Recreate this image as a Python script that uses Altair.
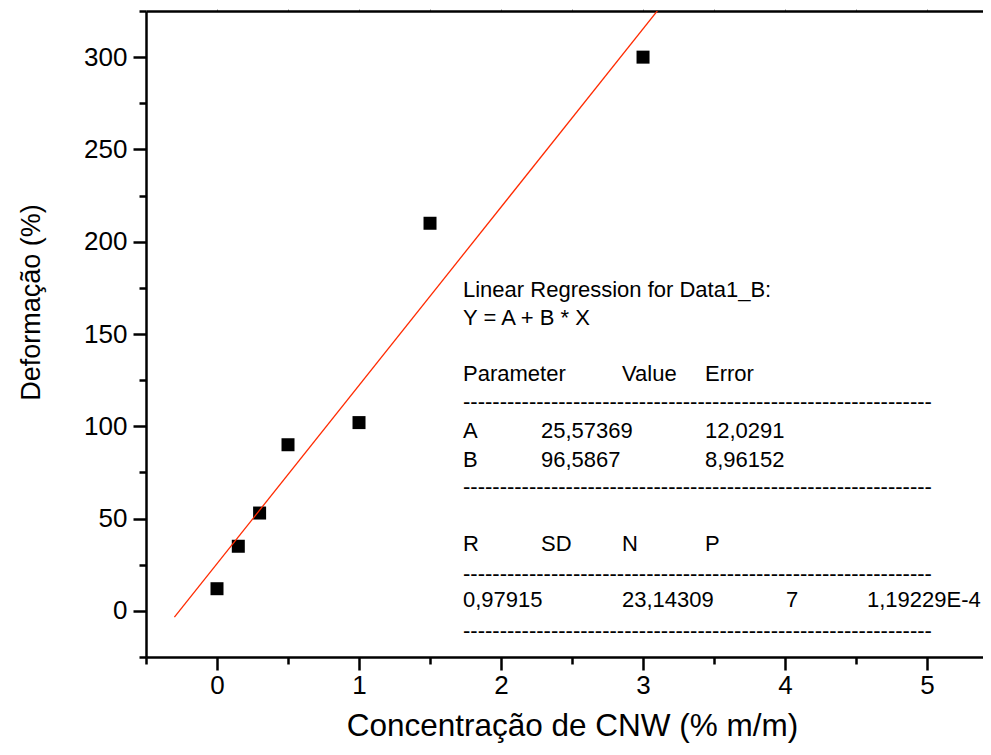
import altair as alt
import pandas as pd

# ---- data ----
CONC = [0.0, 0.15, 0.3, 0.5, 1.0, 1.5, 3.0]
DEFORM = [12, 35, 53, 90, 102, 210, 300]

FIT_A = 25.57369
FIT_B = 96.5867
FIT_X = [-0.3, 3.2]

X_DOMAIN = [-0.5, 5.394]
Y_DOMAIN = [-25, 325]
X_MAJOR = [0, 1, 2, 3, 4, 5]
X_MINOR = [-0.5, 0.5, 1.5, 2.5, 3.5, 4.5]
X_TOP = [0, 0.5, 1, 1.5, 2, 2.5, 3, 3.5, 4, 4.5, 5]
Y_MAJOR = [0, 50, 100, 150, 200, 250, 300]
Y_MINOR = [-25, 25, 75, 125, 175, 225, 275, 325]

HEADER = ["Linear Regression for Data1_B:", "Y = A + B * X"]
PARAM_HEAD = ["Parameter", "Value", "Error"]
PARAM_NAMES = ["A", "B"]
PARAM_VALUES = ["25,57369", "96,5867"]
PARAM_ERRORS = ["12,0291", "8,96152"]
STAT_HEAD = ["R", "SD", "N", "P"]
STAT_VALUES = ["0,97915", "23,14309", "7", "1,19229E-4"]

X_TITLE = "Concentração de CNW (% m/m)"
Y_TITLE = "Deformação (%)"

FONT = "Liberation Sans"
W, H = 837, 646

points_df = pd.DataFrame({"x": CONC, "y": DEFORM})
fit_df = pd.DataFrame({"x": FIT_X, "y": [FIT_A + FIT_B * v for v in FIT_X]})

# ---- text box layout (pixels inside plot area) ----
DASH = "-" * 64
c1, c2, c3, c4, c5, c6 = 317, 395, 476, 559, 640, 721
rows = []
rows.append((HEADER[0], c1, 286))
rows.append((HEADER[1], c1, 314))
for t, cx in zip(PARAM_HEAD, [c1, c3, c4]):
    rows.append((t, cx, 370))
rows.append((DASH, c1, 398))
for i in range(len(PARAM_NAMES)):
    yy = 427 + 29 * i
    rows.append((PARAM_NAMES[i], c1, yy))
    rows.append((PARAM_VALUES[i], c2, yy))
    rows.append((PARAM_ERRORS[i], c4, yy))
rows.append((DASH, c1, 483))
for t, cx in zip(STAT_HEAD, [c1, c2, c3, c4]):
    rows.append((t, cx, 540))
rows.append((DASH, c1, 570))
for t, cx in zip(STAT_VALUES, [c1, c3, c5, c6]):
    rows.append((t, cx, 596))
rows.append((DASH, c1, 627))

xs = (X_DOMAIN[1] - X_DOMAIN[0]) / W
ys = (Y_DOMAIN[1] - Y_DOMAIN[0]) / H
text_df = pd.DataFrame({
    "t": [r[0] for r in rows],
    "x": [X_DOMAIN[0] + r[1] * xs for r in rows],
    "y": [Y_DOMAIN[1] - r[2] * ys for r in rows],
})

xscale = alt.Scale(domain=X_DOMAIN, nice=False, zero=False)
yscale = alt.Scale(domain=Y_DOMAIN, nice=False, zero=False)

common_axis = dict(labelFont=FONT, titleFont=FONT, labelColor="black", titleColor="black",
                   tickColor="black", grid=False)

points = alt.Chart(points_df).mark_square(size=169, color="black", opacity=1).encode(
    x=alt.X("x:Q", scale=xscale, axis=alt.Axis(
        orient="bottom", values=X_MAJOR, tickSize=13, tickWidth=2.5, labelFontSize=26,
        labelPadding=2, title=X_TITLE, titleFontSize=31.5, titleFontWeight="normal",
        titleX=426, titleY=78, titleBaseline="alphabetic", titleAlign="center",
        format="d", domain=True, domainColor="black", domainWidth=2.5, **common_axis)),
    y=alt.Y("y:Q", scale=yscale, axis=alt.Axis(
        orient="left", values=Y_MAJOR, tickSize=13, tickWidth=2.5, labelFontSize=26,
        labelPadding=6, title=Y_TITLE, titleFontSize=27, titleFontWeight="normal",
        titleX=-101, titleY=291, format="d",
        domain=True, domainColor="black", domainWidth=2.5, **common_axis)),
)

fit = alt.Chart(fit_df).mark_line(color="#FF2A00", strokeWidth=1.3, clip=True).encode(
    x=alt.X("x:Q", scale=xscale, axis=alt.Axis(
        orient="bottom", values=X_MINOR, tickSize=7, tickWidth=2.5, labels=False,
        title=None, domain=False, **common_axis)),
    y=alt.Y("y:Q", scale=yscale, axis=alt.Axis(
        orient="left", values=Y_MINOR, tickSize=7, tickWidth=2.5, labels=False,
        title=None, domain=False, **common_axis)),
)

top = alt.Chart(points_df).mark_point(opacity=0).encode(
    x=alt.X("x:Q", scale=xscale, axis=alt.Axis(
        orient="top", values=X_TOP, tickSize=2, tickWidth=1, labels=False,
        title=None, labelFont=FONT, tickColor="#888888", grid=False,
        domain=True, domainColor="black", domainWidth=2.5)),
    y=alt.Y("y:Q", scale=yscale, axis=None),
)

texts = alt.Chart(text_df).mark_text(
    align="left", baseline="alphabetic", font=FONT, fontSize=22, color="black"
).encode(
    x=alt.X("x:Q", scale=xscale, axis=None),
    y=alt.Y("y:Q", scale=yscale, axis=None),
    text="t:N",
)

chart = alt.layer(points, fit, top, texts).resolve_axis(
    x="independent", y="independent"
).properties(
    width=W, height=H,
    autosize=alt.AutoSizeParams(type="none"),
    padding={"left": 138, "top": 3, "right": 0, "bottom": 86},
    background="white",
).configure_view(stroke=None)

chart.save("out.html", embed_options={"renderer": "svg", "actions": False})
